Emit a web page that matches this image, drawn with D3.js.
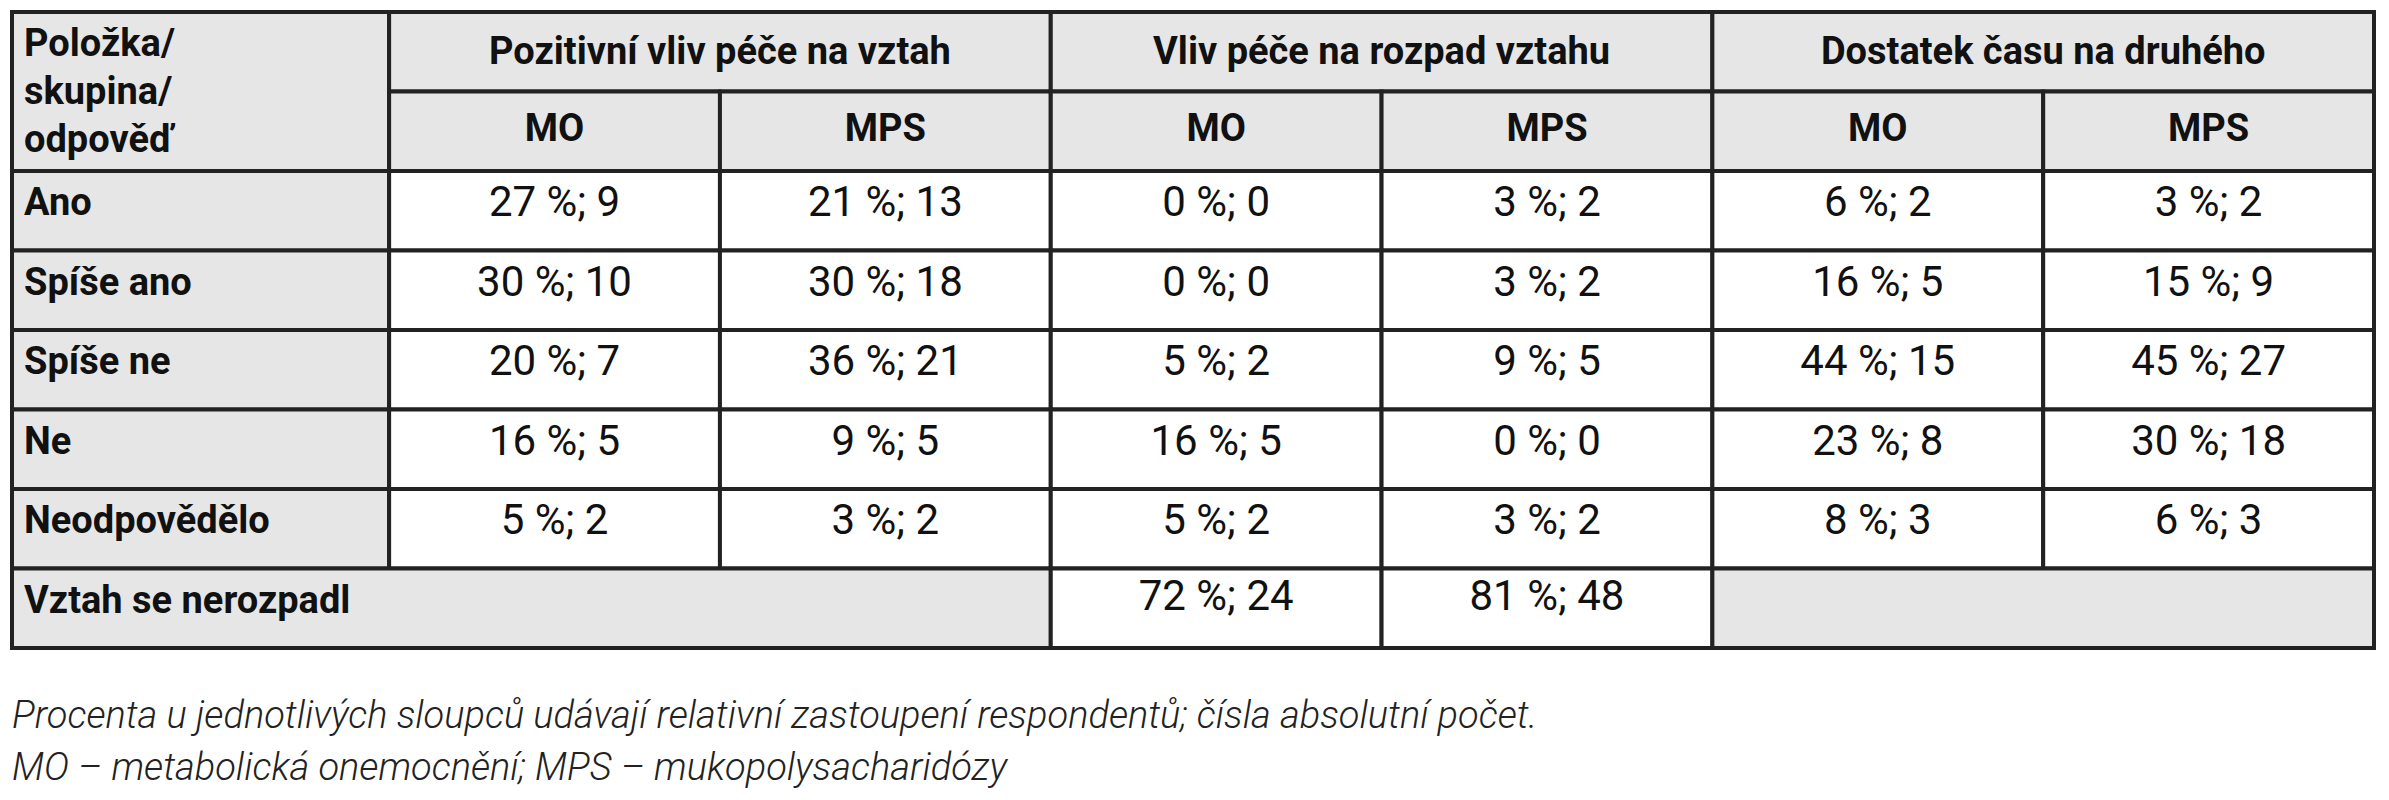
<!DOCTYPE html>
<html><head><meta charset="utf-8">
<script src="https://cdn.jsdelivr.net/npm/d3@7"></script>
<style>body{margin:0;background:#fff}svg{display:block}</style></head>
<body><svg id="c" width="2389" height="800"></svg>
<script>
const groups = ["Pozitivní vliv péče na vztah","Vliv péče na rozpad vztahu","Dostatek času na druhého"];
const subgroups = ["MO","MPS"];
const rowLabels = ["Ano","Spíše ano","Spíše ne","Ne","Neodpovědělo"];
const pct = [
  [27,21,0,3,6,3],
  [30,30,0,3,16,15],
  [20,36,5,9,44,45],
  [16,9,16,0,23,30],
  [5,3,5,3,8,6]
];
const counts = [
  [9,13,0,2,2,2],
  [10,18,0,2,5,9],
  [7,21,2,5,15,27],
  [5,5,5,0,8,18],
  [2,2,2,2,3,3]
];
const lastLabel = "Vztah se nerozpadl";
const lastPct = [72,81];
const lastCounts = [24,48];
const headerLabel = ["Položka/","skupina/","odpověď"];
const notes = ["Procenta u jednotlivých sloupců udávají relativní zastoupení respondentů; čísla absolutní počet.",
               "MO – metabolická onemocnění; MPS – mukopolysacharidózy"];

const svg = d3.select("#c");
const font = "Roboto,'Liberation Sans',sans-serif";
const grey = "#e6e6e6", line = "#222";
const firstW = 1.14;
const x = d3.scaleLinear().domain([0, firstW + 6]).range([12, 2374]);
const colX = i => x(firstW + i);
const y = d3.scaleLinear().domain([0, 8]).range([12, 648]);
const g = svg.append("g");
const fmt = (p,c) => `${p} %; ${c}`;

function cell(x0,x1,y0,y1,fill){
  g.append("rect").attr("x",x0).attr("y",y0).attr("width",x1-x0).attr("height",y1-y0)
   .attr("fill",fill).attr("stroke",line).attr("stroke-width",4);
}
function txt(t,xx,yy,anchor,bold,size){
  g.append("text").attr("x",xx).attr("y",yy).attr("text-anchor",anchor)
   .attr("font-family",font).attr("font-size",size||40).attr("font-weight",bold?"bold":"normal")
   .attr("fill","#111").attr("dominant-baseline","middle").text(t);
}
// header
cell(x(0),colX(0),y(0),y(2),grey);
headerLabel.forEach((t,i)=>txt(t,x(0)+12,y(0)+34+i*48,"start",true,38));
groups.forEach((gr,i)=>{
  cell(colX(2*i),colX(2*i+2),y(0),y(1),grey);
  txt(gr,(colX(2*i)+colX(2*i+2))/2,(y(0)+y(1))/2+2,"middle",true,38);
  subgroups.forEach((s,j)=>{
    const k=2*i+j;
    cell(colX(k),colX(k+1),y(1),y(2),grey);
    txt(s,(colX(k)+colX(k+1))/2,(y(1)+y(2))/2,"middle",true,38);
  });
});
// body
rowLabels.forEach((r,ri)=>{
  const y0=y(ri+2), y1=y(ri+3);
  cell(x(0),colX(0),y0,y1,grey);
  txt(r,x(0)+12,y0+34,"start",true,38);
  pct[ri].forEach((p,k)=>{
    cell(colX(k),colX(k+1),y0,y1,"#fff");
    txt(fmt(p,counts[ri][k]),(colX(k)+colX(k+1))/2,y0+34,"middle",false,42);
  });
});
// last row
cell(x(0),colX(2),y(7),y(8),grey);
txt(lastLabel,x(0)+12,y(7)+34,"start",true,38);
lastPct.forEach((p,j)=>{
  const k=2+j;
  cell(colX(k),colX(k+1),y(7),y(8),"#fff");
  txt(fmt(p,lastCounts[j]),(colX(k)+colX(k+1))/2,y(7)+30,"middle",false,42);
});
cell(colX(4),colX(6),y(7),y(8),grey);
// notes
notes.forEach((n,i)=>{
  svg.append("text").attr("x",12).attr("y",728+i*52).attr("font-family",font)
   .attr("font-size",38).attr("font-style","italic").attr("font-weight",300).attr("fill","#222").text(n);
});
</script></body></html>
